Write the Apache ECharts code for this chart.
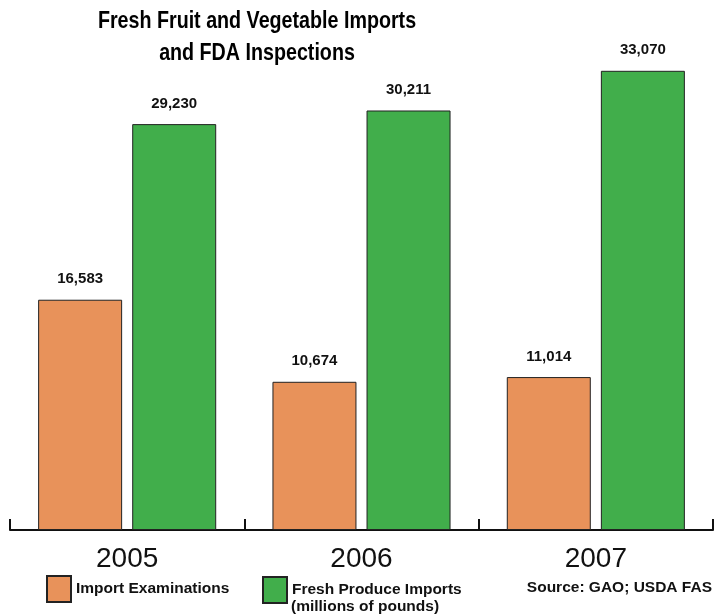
<!DOCTYPE html>
<html>
<head>
<meta charset="utf-8">
<script src="https://cdn.jsdelivr.net/npm/echarts@6/dist/echarts.min.js"></script>
<style>
  html, body { margin: 0; padding: 0; background: #fff; }
  #chart { width: 715px; height: 616px; }
</style>
</head>
<body>
<div id="chart"></div>
<script>
// Years on the category axis
const years = ['2005', '2006', '2007'];
// FDA import examinations per year
const examinations = [16583, 10674, 11014];
// Fresh produce imports, millions of pounds
const produceImports = [29230, 30211, 33070];
// Series names shown in the legend
const seriesNames = ['Import Examinations', 'Fresh Produce Imports'];
const importsUnit = '(millions of pounds)';

const chart = echarts.init(document.getElementById('chart'));

const SANS = '"Liberation Sans", Arial, Helvetica, sans-serif';

const labelStyle = {
  show: true,
  position: 'top',
  distance: 13,
  fontFamily: SANS,
  fontWeight: 'bold',
  fontSize: 15,
  color: '#111',
  formatter: p => p.value.toLocaleString('en-US')
};

const legendText = {
  fontFamily: SANS,
  fontWeight: 'bold',
  fontSize: 15.5,
  color: '#111'
};

chart.setOption({
  animation: false,
  backgroundColor: '#fff',
  legend: [
    {
      data: [seriesNames[0]],
      left: 41,
      top: 570,
      itemWidth: 24,
      itemHeight: 26,
      icon: 'rect',
      textStyle: legendText
    },
    {
      data: [seriesNames[1]],
      left: 257,
      top: 571,
      itemWidth: 24,
      itemHeight: 26,
      icon: 'rect',
      textStyle: legendText
    }
  ],
  graphic: [
    {
      // condensed bold title, centred over the first two groups
      type: 'text',
      x: 257,
      y: 5,
      scaleX: 0.82,
      style: {
        text: 'Fresh Fruit and Vegetable Imports\nand FDA Inspections',
        align: 'center',
        verticalAlign: 'top',
        font: 'bold 24px ' + SANS,
        lineHeight: 32,
        fill: '#000'
      }
    },
    {
      type: 'text',
      x: 291,
      y: 599,
      style: {
        text: importsUnit,
        font: 'bold 15.5px ' + SANS,
        fill: '#111'
      }
    },
    {
      type: 'text',
      right: 3,
      top: 580,
      style: {
        text: 'Source: GAO; USDA FAS',
        font: 'bold 15.5px ' + SANS,
        fill: '#111'
      }
    }
  ],
  grid: {
    left: 10,
    right: 2,
    top: 44,
    bottom: 86,
    containLabel: false
  },
  xAxis: {
    type: 'category',
    data: years,
    axisLine: { lineStyle: { color: '#111', width: 2 } },
    axisTick: { show: true, inside: true, length: 11, lineStyle: { color: '#111', width: 2 } },
    axisLabel: {
      margin: 15,
      fontFamily: SANS,
      fontSize: 28,
      color: '#111'
    }
  },
  yAxis: {
    type: 'value',
    min: 0,
    max: 35000,
    show: false,
    splitLine: { show: false }
  },
  series: [
    {
      name: seriesNames[0],
      type: 'bar',
      data: examinations,
      barWidth: 84,
      barGap: '12%',
      itemStyle: { color: '#E8925A', borderColor: '#222', borderWidth: 1 },
      label: labelStyle
    },
    {
      name: seriesNames[1],
      type: 'bar',
      data: produceImports,
      barWidth: 84,
      barGap: '12%',
      itemStyle: { color: '#41AE4B', borderColor: '#222', borderWidth: 1 },
      label: labelStyle
    }
  ]
});
</script>
</body>
</html>
